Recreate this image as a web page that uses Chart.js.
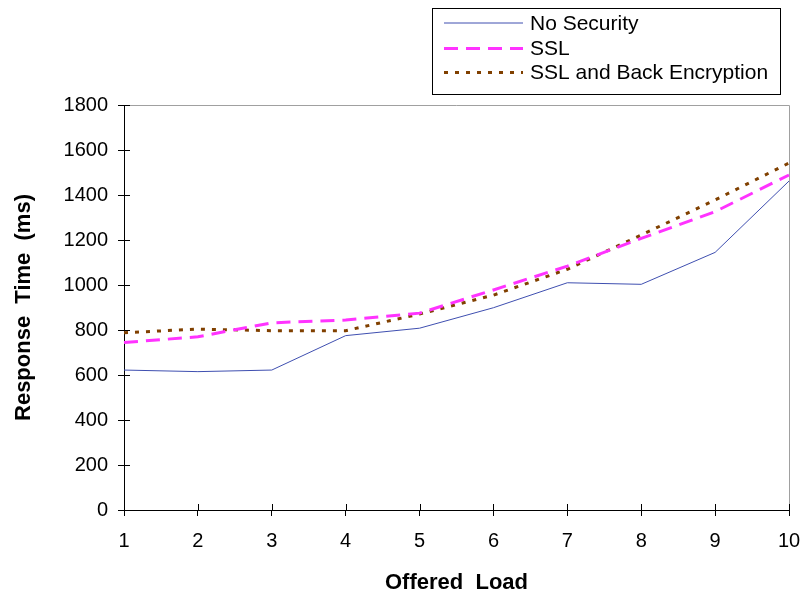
<!DOCTYPE html>
<html>
<head>
<meta charset="utf-8">
<script src="https://cdn.jsdelivr.net/npm/chart.js@4/dist/chart.umd.min.js"></script>
<style>
  html, body { margin: 0; padding: 0; background: #ffffff; }
  canvas { display: block; }
</style>
</head>
<body>
<canvas id="c" width="801" height="595"></canvas>
<script>
const loads = ['1', '2', '3', '4', '5', '6', '7', '8', '9', '10'];
const noSecurity = [622, 615, 622, 775, 808, 899, 1010, 1003, 1145, 1462];
const ssl = [744, 770, 832, 844, 875, 978, 1084, 1207, 1326, 1489];
const sslBack = [788, 804, 797, 797, 871, 955, 1070, 1222, 1378, 1542];
const yTicks = [0, 200, 400, 600, 800, 1000, 1200, 1400, 1600, 1800];
const seriesNames = ['No Security', 'SSL', 'SSL and Back Encryption'];

const FONT = "'Liberation Sans', Arial, sans-serif";

const extras = {
  id: 'extras',
  beforeDatasetsDraw(chart) {
    const { ctx, chartArea: a } = chart;
    ctx.save();
    ctx.strokeStyle = '#a0a0a0';
    ctx.lineWidth = 1;
    ctx.beginPath();
    ctx.moveTo(a.left, a.top + 0.5);
    ctx.lineTo(a.right + 0.5, a.top + 0.5);
    ctx.lineTo(a.right + 0.5, a.bottom);
    ctx.stroke();
    ctx.restore();
  },
  afterDraw(chart) {
    const { ctx, chartArea: a, scales } = chart;
    ctx.save();
    ctx.strokeStyle = '#000';
    ctx.lineWidth = 1;
    ctx.beginPath();
    scales.y.ticks.forEach(t => {
      const y = Math.round(scales.y.getPixelForValue(t.value)) + 0.5;
      ctx.moveTo(a.left, y);
      ctx.lineTo(a.left + 6, y);
    });
    loads.forEach((l, i) => {
      const x = Math.round(scales.x.getPixelForValue(i)) + 0.5;
      ctx.moveTo(x, a.bottom);
      ctx.lineTo(x, a.bottom - 6);
    });
    ctx.stroke();

    const bx = 432.5, by = 8.5, bw = 348, bh = 86;
    ctx.strokeStyle = '#000';
    ctx.lineWidth = 1;
    ctx.strokeRect(bx, by, bw, bh);
    const rowY = [23, 48.5, 72.5];
    ctx.font = '21px ' + FONT;
    ctx.textBaseline = 'middle';
    ctx.textAlign = 'left';
    chart.data.datasets.forEach((ds, i) => {
      ctx.save();
      ctx.strokeStyle = ds.borderColor;
      ctx.lineWidth = ds.borderWidth;
      ctx.setLineDash(ds.borderDash || []);
      ctx.beginPath();
      ctx.moveTo(444, rowY[i]);
      ctx.lineTo(523, rowY[i]);
      ctx.stroke();
      ctx.restore();
      ctx.fillStyle = '#000';
      ctx.fillText(ds.label, 530, rowY[i] + 1);
    });
    ctx.restore();
  }
};

new Chart(document.getElementById('c'), {
  type: 'line',
  data: {
    labels: loads,
    datasets: [
      { label: seriesNames[0], data: noSecurity, borderColor: '#3f4fb0', borderWidth: 1, pointRadius: 0, tension: 0, fill: false },
      { label: seriesNames[1], data: ssl, borderColor: '#ff33ff', borderWidth: 3, borderDash: [14, 8], pointRadius: 0, tension: 0, fill: false },
      { label: seriesNames[2], data: sslBack, borderColor: '#804000', borderWidth: 3, borderDash: [4, 7], pointRadius: 0, tension: 0, fill: false }
    ]
  },
  options: {
    responsive: false,
    animation: false,
    events: [],
    layout: { padding: { top: 105, right: 12, left: 0, bottom: 0 } },
    plugins: { legend: { display: false }, tooltip: { enabled: false } },
    scales: {
      x: {
        type: 'category',
        offset: false,
        grid: { display: true, drawOnChartArea: false, tickLength: 6, color: '#000' },
        border: { display: true, color: '#000', width: 1 },
        ticks: { color: '#000', font: { family: FONT, size: 20 }, padding: 13, maxRotation: 0, autoSkip: false },
        title: { display: true, text: 'Offered  Load', color: '#000', font: { family: FONT, size: 22, weight: 'bold', lineHeight: 1 }, padding: { top: 0, bottom: 1 } },
        afterFit(s) { s.height = 85; s.paddingLeft = 0; s.paddingRight = 0; }
      },
      y: {
        min: 0,
        max: 1800,
        afterBuildTicks(s) { s.ticks = yTicks.map(v => ({ value: v })); },
        grid: { display: true, drawOnChartArea: false, tickLength: 6, color: '#000' },
        border: { display: true, color: '#000', width: 1 },
        ticks: { color: '#000', font: { family: FONT, size: 20 }, padding: 10, callback: v => String(v) },
        title: { display: true, text: 'Response  Time  (ms)', color: '#000', font: { family: FONT, size: 22, weight: 'bold', lineHeight: 1.2 }, padding: { top: 11, bottom: 0 } },
        afterFit(s) { s.width = 124; s.paddingTop = 0; s.paddingBottom = 0; }
      }
    }
  },
  plugins: [extras]
});
</script>
</body>
</html>
